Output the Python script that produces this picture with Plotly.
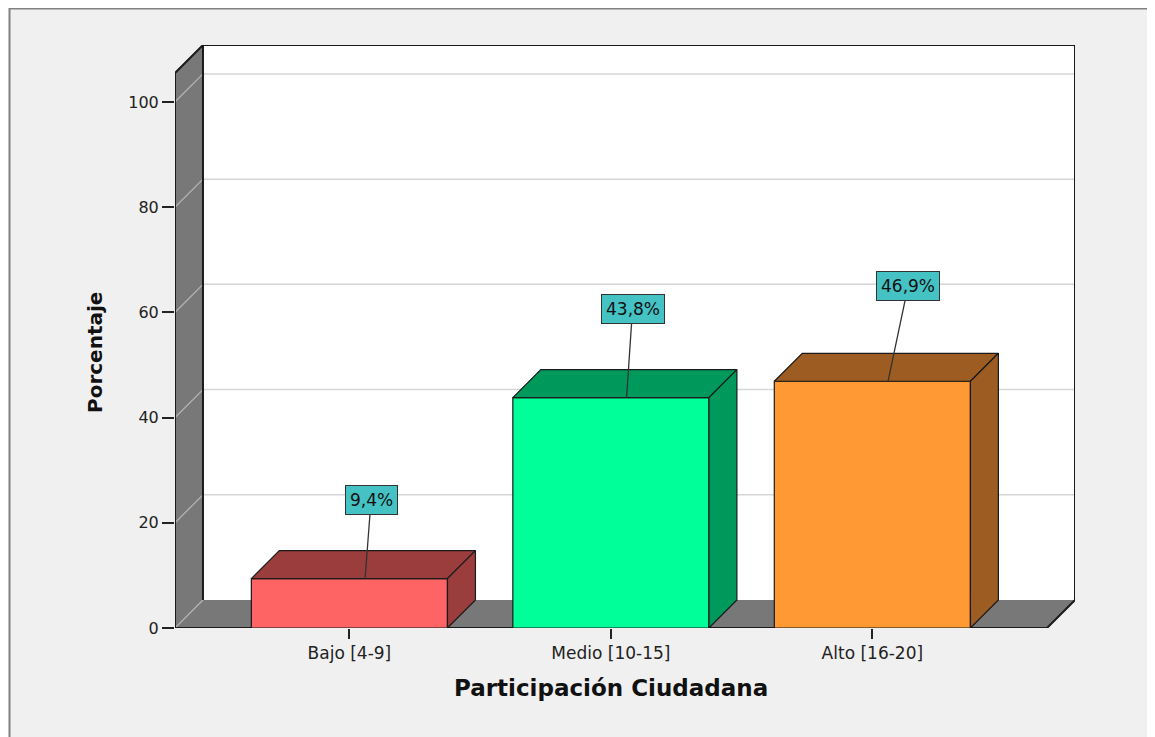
import plotly.graph_objects as go

# ---------------- data ----------------
categories = ["Bajo [4-9]", "Medio [10-15]", "Alto [16-20]"]
percentages = [9.4, 43.8, 46.9]
y_tick_values = [0, 20, 40, 60, 80, 100]

# ---------------- styles ----------------
front_colors = ["#ff6464", "#00ff99", "#ff9933"]
shade_colors = ["#9c3d3d", "#00995c", "#9c5c22"]
label_offsets = [(6, -79), (6, -89), (20, -95)]  # pixel offsets of the callout boxes

OFF = 8                      # page body margin of the browser
W, H = 1155 - OFF, 737 - OFF
M_L = 175 - OFF
M_T = 45 - OFF
M_B = H - (628 - OFF)
M_R = W - (1075 - OFF)

BAR_W = 0.75
X_LEFT, X_RIGHT = -0.667, 2.668      # front edges of the floor (category units)
DX, DY = 0.107, 5.32                 # 3D depth offset (x units, y units)
Y_TOP = 105.5                        # height of the front-left wall top
WALL = "#787878"
GRID = "#d6d6d6"
EDGE = "#1a1a1a"

x_pos = list(range(len(categories)))

fig = go.Figure()

# front faces of the bars
fig.add_trace(go.Bar(
    x=x_pos, y=percentages, width=BAR_W,
    marker=dict(color=front_colors, line=dict(color=EDGE, width=1.2)),
    hoverinfo="skip", showlegend=False,
))

# top and side faces of the bars
for i, v in enumerate(percentages):
    xl, xr = x_pos[i] - BAR_W / 2, x_pos[i] + BAR_W / 2
    fig.add_trace(go.Scatter(
        x=[xl, xl + DX, xr + DX, xr, xl], y=[v, v + DY, v + DY, v, v],
        mode="lines", fill="toself", fillcolor=shade_colors[i],
        line=dict(color=EDGE, width=1.2), hoverinfo="skip", showlegend=False))
    fig.add_trace(go.Scatter(
        x=[xr, xr, xr + DX, xr + DX, xr], y=[0, v, v + DY, DY, 0],
        mode="lines", fill="toself", fillcolor=shade_colors[i],
        line=dict(color=EDGE, width=1.2), hoverinfo="skip", showlegend=False))


def path(pts, close=True):
    s = "M " + " L ".join(f"{x},{y}" for x, y in pts)
    return s + (" Z" if close else "")


shapes = []
# screen pixel -> paper coordinates
px = lambda p: (p - OFF - M_L) / (W - M_L - M_R)
py = lambda p: (H - M_B - (p - OFF)) / (H - M_T - M_B)
# outer frame
shapes.append(dict(type="rect", xref="paper", yref="paper",
                   x0=px(9.5), x1=px(1151), y0=py(760), y1=py(8.5),
                   fillcolor="#f0f0f0", line=dict(color="#808080", width=2),
                   layer="below"))
# back wall
shapes.append(dict(type="path", xref="x", yref="y", layer="below",
                   path=path([(X_LEFT + DX, DY), (X_RIGHT + DX, DY),
                              (X_RIGHT + DX, Y_TOP + DY), (X_LEFT + DX, Y_TOP + DY)]),
                   fillcolor="white", line=dict(width=0)))
# side wall
shapes.append(dict(type="path", xref="x", yref="y", layer="below",
                   path=path([(X_LEFT, 0), (X_LEFT + DX, DY),
                              (X_LEFT + DX, Y_TOP + DY), (X_LEFT, Y_TOP)]),
                   fillcolor=WALL, line=dict(width=0)))
# floor
shapes.append(dict(type="path", xref="x", yref="y", layer="below",
                   path=path([(X_LEFT, 0), (X_RIGHT, 0), (X_RIGHT + DX, DY), (X_LEFT + DX, DY)]),
                   fillcolor=WALL, line=dict(width=0)))
# grid lines (back wall + side wall diagonals)
for v in y_tick_values:
    if v > 0:
        shapes.append(dict(type="line", xref="x", yref="y", layer="below",
                           x0=X_LEFT + DX, x1=X_RIGHT + DX, y0=v + DY, y1=v + DY,
                           line=dict(color=GRID, width=1.5)))
    shapes.append(dict(type="line", xref="x", yref="y", layer="below",
                       x0=X_LEFT, x1=X_LEFT + DX, y0=v, y1=v + DY,
                       line=dict(color="#b8b8b8", width=1.2)))
# dark outline edges
edges = [
    [(X_LEFT, 0), (X_LEFT, Y_TOP), (X_LEFT + DX, Y_TOP + DY), (X_RIGHT + DX, Y_TOP + DY),
     (X_RIGHT + DX, DY), (X_RIGHT, 0), (X_LEFT, 0)],
    [(X_LEFT + DX, DY), (X_LEFT + DX, Y_TOP + DY)],
]
for e in edges:
    shapes.append(dict(type="path", xref="x", yref="y", layer="below",
                       path=path(e, close=False), line=dict(color=EDGE, width=2)))

# value callouts
annotations = []
for i, v in enumerate(percentages):
    annotations.append(dict(
        x=x_pos[i] + 0.06, y=v, xref="x", yref="y",
        text=f"{v:.1f}".replace(".", ",") + "%",
        showarrow=True, arrowhead=0, arrowwidth=1.3, arrowcolor="#333333",
        ax=label_offsets[i][0], ay=label_offsets[i][1], standoff=0,
        bgcolor="#44c2c4", bordercolor="#333333", borderwidth=1, borderpad=4,
        font=dict(family="DejaVu Sans", size=17, color="#111111"),
    ))
# axis titles
annotations.append(dict(text="<b>Participación Ciudadana</b>", xref="paper", yref="paper",
                        x=px(611), y=py(688), showarrow=False, xanchor="center", yanchor="middle",
                        font=dict(family="DejaVu Sans", size=23, color="#111111")))
annotations.append(dict(text="<b>Porcentaje</b>", xref="paper", yref="paper",
                        x=px(95), y=py(353), showarrow=False, textangle=-90,
                        xanchor="center", yanchor="middle",
                        font=dict(family="DejaVu Sans", size=20, color="#111111")))

fig.update_layout(
    width=W, height=H,
    margin=dict(l=M_L, r=M_R, t=M_T, b=M_B, autoexpand=False),
    paper_bgcolor="white", plot_bgcolor="rgba(0,0,0,0)",
    shapes=shapes, annotations=annotations, showlegend=False,
    xaxis=dict(range=[X_LEFT, X_RIGHT + DX], tickvals=x_pos, ticktext=categories,
               showgrid=False, zeroline=False, showline=False,
               ticks="outside", ticklen=10, tickwidth=1.5, tickcolor="#222222",
               tickfont=dict(family="DejaVu Sans", size=17, color="#222222"),
               fixedrange=True),
    yaxis=dict(range=[0, Y_TOP + DY], tickvals=y_tick_values,
               showgrid=False, zeroline=False, showline=False,
               ticks="outside", ticklen=12, tickwidth=1.5, tickcolor="#222222",
               tickfont=dict(family="DejaVu Sans", size=16, color="#222222"),
               fixedrange=True),
)

fig.write_html("out.html")
